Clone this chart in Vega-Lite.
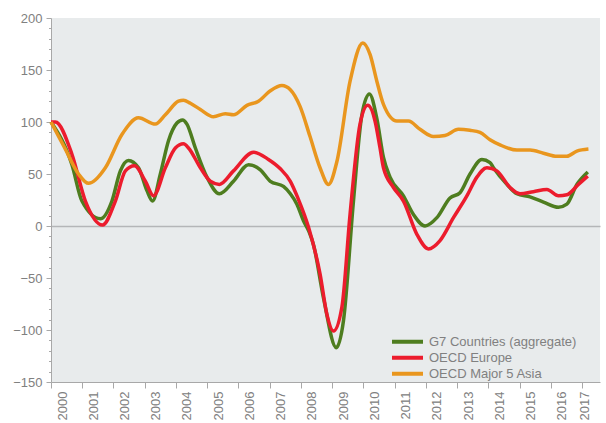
{
  "$schema": "https://vega.github.io/schema/vega-lite/v6.json",
  "width": 549,
  "height": 364,
  "autosize": {"type": "none"},
  "padding": {"left": 51, "top": 18, "right": 6, "bottom": 41},
  "background": "white",
  "config": {
    "view": {"fill": "#e8ebec", "stroke": null},
    "font": "Liberation Sans"
  },
  "data": {
    "values": [
      {"s": "G7 Countries (aggregate)", "t": 2000.00, "v": 100},
      {"s": "G7 Countries (aggregate)", "t": 2000.67, "v": 59},
      {"s": "G7 Countries (aggregate)", "t": 2000.99, "v": 24},
      {"s": "G7 Countries (aggregate)", "t": 2001.58, "v": 7},
      {"s": "G7 Countries (aggregate)", "t": 2001.95, "v": 24},
      {"s": "G7 Countries (aggregate)", "t": 2002.22, "v": 53},
      {"s": "G7 Countries (aggregate)", "t": 2002.48, "v": 63},
      {"s": "G7 Countries (aggregate)", "t": 2002.80, "v": 56},
      {"s": "G7 Countries (aggregate)", "t": 2003.07, "v": 34},
      {"s": "G7 Countries (aggregate)", "t": 2003.25, "v": 24},
      {"s": "G7 Countries (aggregate)", "t": 2003.50, "v": 50},
      {"s": "G7 Countries (aggregate)", "t": 2003.76, "v": 82},
      {"s": "G7 Countries (aggregate)", "t": 2004.03, "v": 99},
      {"s": "G7 Countries (aggregate)", "t": 2004.21, "v": 102},
      {"s": "G7 Countries (aggregate)", "t": 2004.35, "v": 98},
      {"s": "G7 Countries (aggregate)", "t": 2004.62, "v": 75},
      {"s": "G7 Countries (aggregate)", "t": 2004.99, "v": 47},
      {"s": "G7 Countries (aggregate)", "t": 2005.39, "v": 31},
      {"s": "G7 Countries (aggregate)", "t": 2005.84, "v": 43},
      {"s": "G7 Countries (aggregate)", "t": 2006.32, "v": 59},
      {"s": "G7 Countries (aggregate)", "t": 2006.70, "v": 54},
      {"s": "G7 Countries (aggregate)", "t": 2007.02, "v": 43},
      {"s": "G7 Countries (aggregate)", "t": 2007.44, "v": 38},
      {"s": "G7 Countries (aggregate)", "t": 2007.66, "v": 31},
      {"s": "G7 Countries (aggregate)", "t": 2007.87, "v": 21},
      {"s": "G7 Countries (aggregate)", "t": 2008.08, "v": 5},
      {"s": "G7 Countries (aggregate)", "t": 2008.25, "v": -5},
      {"s": "G7 Countries (aggregate)", "t": 2008.40, "v": -18},
      {"s": "G7 Countries (aggregate)", "t": 2008.72, "v": -69},
      {"s": "G7 Countries (aggregate)", "t": 2009.13, "v": -117},
      {"s": "G7 Countries (aggregate)", "t": 2009.36, "v": -91},
      {"s": "G7 Countries (aggregate)", "t": 2009.68, "v": 24},
      {"s": "G7 Countries (aggregate)", "t": 2009.95, "v": 107},
      {"s": "G7 Countries (aggregate)", "t": 2010.19, "v": 127},
      {"s": "G7 Countries (aggregate)", "t": 2010.43, "v": 103},
      {"s": "G7 Countries (aggregate)", "t": 2010.64, "v": 66},
      {"s": "G7 Countries (aggregate)", "t": 2010.85, "v": 47},
      {"s": "G7 Countries (aggregate)", "t": 2011.28, "v": 29},
      {"s": "G7 Countries (aggregate)", "t": 2011.60, "v": 11},
      {"s": "G7 Countries (aggregate)", "t": 2011.97, "v": 0},
      {"s": "G7 Countries (aggregate)", "t": 2012.35, "v": 8},
      {"s": "G7 Countries (aggregate)", "t": 2012.77, "v": 27},
      {"s": "G7 Countries (aggregate)", "t": 2013.09, "v": 32},
      {"s": "G7 Countries (aggregate)", "t": 2013.41, "v": 50},
      {"s": "G7 Countries (aggregate)", "t": 2013.79, "v": 64},
      {"s": "G7 Countries (aggregate)", "t": 2014.05, "v": 61},
      {"s": "G7 Countries (aggregate)", "t": 2014.16, "v": 56},
      {"s": "G7 Countries (aggregate)", "t": 2014.59, "v": 40},
      {"s": "G7 Countries (aggregate)", "t": 2014.91, "v": 31},
      {"s": "G7 Countries (aggregate)", "t": 2015.33, "v": 28},
      {"s": "G7 Countries (aggregate)", "t": 2015.76, "v": 23},
      {"s": "G7 Countries (aggregate)", "t": 2016.24, "v": 18},
      {"s": "G7 Countries (aggregate)", "t": 2016.51, "v": 21},
      {"s": "G7 Countries (aggregate)", "t": 2016.83, "v": 40},
      {"s": "G7 Countries (aggregate)", "t": 2017.18, "v": 52},

      {"s": "OECD Europe", "t": 2000.00, "v": 100},
      {"s": "OECD Europe", "t": 2000.14, "v": 100},
      {"s": "OECD Europe", "t": 2000.67, "v": 69},
      {"s": "OECD Europe", "t": 2001.10, "v": 24},
      {"s": "OECD Europe", "t": 2001.65, "v": 1},
      {"s": "OECD Europe", "t": 2002.06, "v": 24},
      {"s": "OECD Europe", "t": 2002.38, "v": 53},
      {"s": "OECD Europe", "t": 2002.67, "v": 58},
      {"s": "OECD Europe", "t": 2003.02, "v": 43},
      {"s": "OECD Europe", "t": 2003.28, "v": 29},
      {"s": "OECD Europe", "t": 2003.66, "v": 56},
      {"s": "OECD Europe", "t": 2003.98, "v": 75},
      {"s": "OECD Europe", "t": 2004.24, "v": 79},
      {"s": "OECD Europe", "t": 2004.40, "v": 75},
      {"s": "OECD Europe", "t": 2004.78, "v": 56},
      {"s": "OECD Europe", "t": 2005.10, "v": 43},
      {"s": "OECD Europe", "t": 2005.39, "v": 40},
      {"s": "OECD Europe", "t": 2005.84, "v": 53},
      {"s": "OECD Europe", "t": 2006.48, "v": 71},
      {"s": "OECD Europe", "t": 2006.96, "v": 64},
      {"s": "OECD Europe", "t": 2007.34, "v": 55},
      {"s": "OECD Europe", "t": 2007.66, "v": 43},
      {"s": "OECD Europe", "t": 2007.90, "v": 27},
      {"s": "OECD Europe", "t": 2008.24, "v": -1},
      {"s": "OECD Europe", "t": 2008.61, "v": -46},
      {"s": "OECD Europe", "t": 2008.83, "v": -85},
      {"s": "OECD Europe", "t": 2009.04, "v": -101},
      {"s": "OECD Europe", "t": 2009.31, "v": -78},
      {"s": "OECD Europe", "t": 2009.57, "v": 11},
      {"s": "OECD Europe", "t": 2009.89, "v": 98},
      {"s": "OECD Europe", "t": 2010.14, "v": 116},
      {"s": "OECD Europe", "t": 2010.37, "v": 101},
      {"s": "OECD Europe", "t": 2010.53, "v": 75},
      {"s": "OECD Europe", "t": 2010.64, "v": 56},
      {"s": "OECD Europe", "t": 2010.96, "v": 37},
      {"s": "OECD Europe", "t": 2011.28, "v": 24},
      {"s": "OECD Europe", "t": 2011.71, "v": -8},
      {"s": "OECD Europe", "t": 2012.08, "v": -22},
      {"s": "OECD Europe", "t": 2012.45, "v": -14},
      {"s": "OECD Europe", "t": 2012.88, "v": 8},
      {"s": "OECD Europe", "t": 2013.31, "v": 29},
      {"s": "OECD Europe", "t": 2013.63, "v": 47},
      {"s": "OECD Europe", "t": 2013.95, "v": 56},
      {"s": "OECD Europe", "t": 2014.27, "v": 53},
      {"s": "OECD Europe", "t": 2014.69, "v": 37},
      {"s": "OECD Europe", "t": 2015.01, "v": 31},
      {"s": "OECD Europe", "t": 2015.44, "v": 33},
      {"s": "OECD Europe", "t": 2015.87, "v": 35},
      {"s": "OECD Europe", "t": 2016.24, "v": 29},
      {"s": "OECD Europe", "t": 2016.51, "v": 30},
      {"s": "OECD Europe", "t": 2016.88, "v": 40},
      {"s": "OECD Europe", "t": 2017.18, "v": 48},

      {"s": "OECD Major 5 Asia", "t": 2000.00, "v": 100},
      {"s": "OECD Major 5 Asia", "t": 2000.44, "v": 75},
      {"s": "OECD Major 5 Asia", "t": 2000.88, "v": 50},
      {"s": "OECD Major 5 Asia", "t": 2001.20, "v": 41},
      {"s": "OECD Major 5 Asia", "t": 2001.74, "v": 56},
      {"s": "OECD Major 5 Asia", "t": 2002.27, "v": 88},
      {"s": "OECD Major 5 Asia", "t": 2002.80, "v": 104},
      {"s": "OECD Major 5 Asia", "t": 2003.34, "v": 98},
      {"s": "OECD Major 5 Asia", "t": 2003.66, "v": 107},
      {"s": "OECD Major 5 Asia", "t": 2004.08, "v": 120},
      {"s": "OECD Major 5 Asia", "t": 2004.24, "v": 121},
      {"s": "OECD Major 5 Asia", "t": 2004.46, "v": 118},
      {"s": "OECD Major 5 Asia", "t": 2004.78, "v": 112},
      {"s": "OECD Major 5 Asia", "t": 2005.20, "v": 105},
      {"s": "OECD Major 5 Asia", "t": 2005.58, "v": 108},
      {"s": "OECD Major 5 Asia", "t": 2005.84, "v": 107},
      {"s": "OECD Major 5 Asia", "t": 2006.27, "v": 116},
      {"s": "OECD Major 5 Asia", "t": 2006.64, "v": 120},
      {"s": "OECD Major 5 Asia", "t": 2007.02, "v": 130},
      {"s": "OECD Major 5 Asia", "t": 2007.39, "v": 135},
      {"s": "OECD Major 5 Asia", "t": 2007.66, "v": 131},
      {"s": "OECD Major 5 Asia", "t": 2007.97, "v": 115},
      {"s": "OECD Major 5 Asia", "t": 2008.29, "v": 86},
      {"s": "OECD Major 5 Asia", "t": 2008.61, "v": 56},
      {"s": "OECD Major 5 Asia", "t": 2008.88, "v": 40},
      {"s": "OECD Major 5 Asia", "t": 2009.15, "v": 62},
      {"s": "OECD Major 5 Asia", "t": 2009.57, "v": 139},
      {"s": "OECD Major 5 Asia", "t": 2009.98, "v": 176},
      {"s": "OECD Major 5 Asia", "t": 2010.21, "v": 165},
      {"s": "OECD Major 5 Asia", "t": 2010.43, "v": 139},
      {"s": "OECD Major 5 Asia", "t": 2010.64, "v": 117},
      {"s": "OECD Major 5 Asia", "t": 2011.07, "v": 101},
      {"s": "OECD Major 5 Asia", "t": 2011.44, "v": 101},
      {"s": "OECD Major 5 Asia", "t": 2011.81, "v": 93},
      {"s": "OECD Major 5 Asia", "t": 2012.24, "v": 86},
      {"s": "OECD Major 5 Asia", "t": 2012.61, "v": 87},
      {"s": "OECD Major 5 Asia", "t": 2013.04, "v": 93},
      {"s": "OECD Major 5 Asia", "t": 2013.41, "v": 92},
      {"s": "OECD Major 5 Asia", "t": 2013.73, "v": 90},
      {"s": "OECD Major 5 Asia", "t": 2014.05, "v": 83},
      {"s": "OECD Major 5 Asia", "t": 2014.37, "v": 78},
      {"s": "OECD Major 5 Asia", "t": 2014.91, "v": 73},
      {"s": "OECD Major 5 Asia", "t": 2015.33, "v": 73},
      {"s": "OECD Major 5 Asia", "t": 2015.76, "v": 70},
      {"s": "OECD Major 5 Asia", "t": 2016.19, "v": 67},
      {"s": "OECD Major 5 Asia", "t": 2016.51, "v": 67},
      {"s": "OECD Major 5 Asia", "t": 2016.83, "v": 72},
      {"s": "OECD Major 5 Asia", "t": 2017.20, "v": 74}
    ]
  },
  "mark": {"type": "line", "interpolate": "monotone", "strokeWidth": 3.5},
  "encoding": {
    "x": {
      "field": "t",
      "type": "quantitative",
      "scale": {"domain": [2000, 2017.57], "nice": false, "zero": false},
      "axis": {
        "title": null,
        "grid": false,
        "values": [2000, 2001, 2002, 2003, 2004, 2005, 2006, 2007, 2008, 2009, 2010, 2011, 2012, 2013, 2014, 2015, 2016, 2017],
        "format": "d",
        "labelAngle": 270,
        "labelFlush": false,
        "labelOverlap": false,
        "labelBound": false,
        "labelOffset": {"condition": {"test": "datum.value === 2017", "value": 2}, "value": 11},
        "labelPadding": 3,
        "labelFontSize": 13,
        "labelColor": "#808080",
        "tickSize": 6,
        "tickColor": "#a8a8a8",
        "domainColor": "#a8a8a8"
      }
    },
    "y": {
      "field": "v",
      "type": "quantitative",
      "scale": {"domain": [-150, 200], "nice": false, "zero": false},
      "axis": {
        "title": null,
        "values": [-150, -140, -130, -120, -110, -100, -90, -80, -70, -60, -50, -40, -30, -20, -10, 0, 10, 20, 30, 40, 50, 60, 70, 80, 90, 100, 110, 120, 130, 140, 150, 160, 170, 180, 190, 200],
        "labelExpr": "datum.value % 50 === 0 ? datum.label : ''",
        "labelOverlap": false,
        "labelBound": false,
        "labelFlush": false,
        "labelPadding": 4,
        "labelFontSize": 13,
        "labelColor": "#808080",
        "tickSize": {"condition": {"test": "datum.value % 50 === 0", "value": 5}, "value": 2.5},
        "tickColor": "#a8a8a8",
        "domainColor": "#a8a8a8",
        "grid": true,
        "gridColor": "#b4b6b8",
        "gridWidth": 1.5,
        "gridOpacity": {"condition": {"test": "datum.value === 0", "value": 1}, "value": 0}
      }
    },
    "color": {
      "field": "s",
      "type": "nominal",
      "scale": {
        "domain": ["G7 Countries (aggregate)", "OECD Europe", "OECD Major 5 Asia"],
        "range": ["#4e7d1f", "#ec1c2d", "#e9961e"]
      },
      "legend": {
        "title": null,
        "orient": "none",
        "legendX": 339,
        "legendY": 316,
        "symbolType": "stroke",
        "symbolSize": 961,
        "symbolStrokeWidth": 4,
        "clipHeight": 15.5,
        "rowPadding": 0,
        "padding": 0,
        "labelOffset": 4,
        "labelFontSize": 13,
        "labelColor": "#808080",
        "labelLimit": 300
      }
    }
  }
}
